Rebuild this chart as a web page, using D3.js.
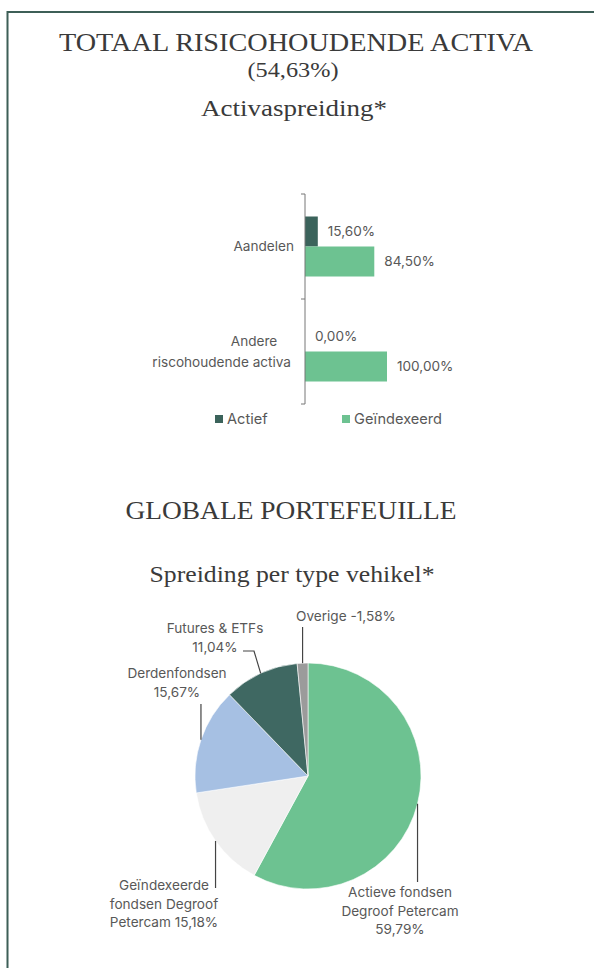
<!DOCTYPE html>
<html>
<head>
<meta charset="utf-8">
<script src="https://cdn.jsdelivr.net/npm/d3@7"></script>
<style>
	body { margin: 0; background: #fff; }
	svg { display: block; }
	.serif { font-family: "Liberation Serif", "DejaVu Serif", serif; fill: #3a3a3a; }
	.sans { font-family: "Inter", "Roboto", sans-serif; font-weight: 400; fill: #585858; font-size: 13.6px; }
	.leg { font-size: 14.6px; }
</style>
</head>
<body>
<div id="chart"></div>
<script>
// bar chart data
var categories = ["Aandelen", "Andere\nriscohoudende activa"];
var seriesNames = ["Actief", "Geïndexeerd"];
var actief = [15.60, 0.00];
var geindexeerd = [84.50, 100.00];

// pie data
var sliceNames = ["Actieve fondsen\nDegroof Petercam", "Geïndexeerde\nfondsen Degroof\nPetercam", "Derdenfondsen", "Futures & ETFs", "Overige"];
var sliceValues = [59.79, 15.18, 15.67, 11.04, -1.58];

var width = 594, height = 968;
var barColors = ["#3b635b", "#6dc291"];
var sliceColors = ["#6dc291", "#efefef", "#a6c0e3", "#3f6862", "#9b9b9b"];

var fmt = function(v) { return d3.format(".2f")(v).replace(".", ",").replace("\u2212", "-") + "%"; };

var svg = d3.select("#chart").append("svg")
	.attr("width", width)
	.attr("height", height);

svg.append("rect").attr("width", width).attr("height", height).attr("fill", "#fff");

// frame (only top and left edges are visible)
svg.append("line").attr("x1", 7).attr("x2", width).attr("y1", 12).attr("y2", 12)
	.attr("stroke", "#3d5f57").attr("stroke-width", 2);
svg.append("line").attr("x1", 7.5).attr("x2", 7.5).attr("y1", 11).attr("y2", height)
	.attr("stroke", "#3d5f57").attr("stroke-width", 2);

function title(txt, x, y, size, len)
{
	svg.append("text")
		.attr("class", "serif")
		.attr("x", x).attr("y", y)
		.attr("text-anchor", "middle")
		.attr("font-size", size)
		.attr("textLength", len)
		.attr("lengthAdjust", "spacingAndGlyphs")
		.text(txt);
}

title("TOTAAL RISICOHOUDENDE ACTIVA", 296, 51, 26, 474);
title("(54,63%)", 293, 77, 22, 91);
title("Activaspreiding*", 294, 116, 24, 186);
title("GLOBALE PORTEFEUILLE", 291, 519, 26, 331);
title("Spreiding per type vehikel*", 292, 582, 24, 285);

// ---- bar chart ----
var x = d3.scaleLinear().domain([0, 100]).range([305, 387]);
var y = d3.scaleBand().domain(categories).range([194, 404]);
var groupH = 60;
var ySub = d3.scaleBand().domain(seriesNames)
	.range([(y.bandwidth() - groupH) / 2, (y.bandwidth() + groupH) / 2]);

var bars = svg.append("g");
var seriesData = [actief, geindexeerd];

seriesNames.forEach(function(s, si) {
	categories.forEach(function(c, ci) {
		var v = seriesData[si][ci];
		var yy = y(c) + ySub(s);
		bars.append("rect")
			.attr("x", x(0))
			.attr("y", yy)
			.attr("width", x(v) - x(0))
			.attr("height", ySub.bandwidth())
			.attr("fill", barColors[si]);
		bars.append("text")
			.attr("class", "sans")
			.attr("x", x(v) + 10)
			.attr("y", yy + ySub.bandwidth() / 2)
			.attr("dy", "0.35em")
			.text(fmt(v));
	});
});

// axis line with ticks at band edges
var axis = svg.append("g");
axis.append("line")
	.attr("x1", x(0)).attr("x2", x(0))
	.attr("y1", y.range()[0]).attr("y2", y.range()[1])
	.attr("stroke", "#777").attr("stroke-width", 1);
var edges = categories.map(function(c) { return y(c); }).concat([y.range()[1]]);
axis.selectAll(".tk").data(edges).enter().append("line")
	.attr("x1", x(0) - 4).attr("x2", x(0))
	.attr("y1", function(d) { return d; }).attr("y2", function(d) { return d; })
	.attr("stroke", "#777");

// category labels
var catLayout = [
	[{x: 294, anchor: "end"}],
	[{x: 254, anchor: "middle"}, {x: 291, anchor: "end"}]
];
categories.forEach(function(c, ci) {
	var lines = c.split("\n");
	var cy = y(c) + y.bandwidth() / 2;
	var lh = 21;
	lines.forEach(function(l, li) {
		svg.append("text")
			.attr("class", "sans")
			.attr("x", catLayout[ci][li].x)
			.attr("y", cy + (li - (lines.length - 1) / 2) * lh)
			.attr("dy", "0.35em")
			.attr("text-anchor", catLayout[ci][li].anchor)
			.text(l);
	});
});

// legend
var legX = [215, 342];
seriesNames.forEach(function(s, si) {
	svg.append("rect")
		.attr("x", legX[si]).attr("y", 415)
		.attr("width", 8).attr("height", 8)
		.attr("fill", barColors[si]);
	svg.append("text")
		.attr("class", "sans leg")
		.attr("x", legX[si] + 12)
		.attr("y", 419)
		.attr("dy", "0.35em")
		.text(s);
});

// ---- pie chart ----
var cx = 308, cy = 776, r = 113;
var pie = d3.pie().sort(null).value(function(d) { return Math.abs(d); });
var arcs = pie(sliceValues);
var arc = d3.arc().innerRadius(0).outerRadius(r);

var pg = svg.append("g").attr("transform", "translate(" + cx + "," + cy + ")");
pg.selectAll("path").data(arcs).enter().append("path")
	.attr("d", arc)
	.attr("fill", function(d, i) { return sliceColors[i]; })
	.attr("stroke", "#fff")
	.attr("stroke-width", 0.6);

// label layout: text centre, first baseline, leader end, value joiner
var labelLayout = [
	{tx: 400, ty: 897, join: "\n", leader: [[0, 882]]},
	{tx: 164, ty: 890, join: " ", leader: [[0, 888]]},
	{tx: 177, ty: 678, join: "\n", leader: [[0, 704]]},
	{tx: 215, ty: 633, join: "\n", leader: [[254, 651], [243, 651]]},
	{tx: 346, ty: 621, join: " ", leader: [[0, 627]]}
];

arcs.forEach(function(a, i) {
	var L = labelLayout[i];
	var mid = (a.startAngle + a.endAngle) / 2;
	var px = cx + r * Math.sin(mid);
	var py = cy - r * Math.cos(mid);
	var pts = [[px, py]];
	L.leader.forEach(function(p) {
		pts.push([p[0] === 0 ? px : p[0], p[1]]);
	});
	svg.append("path")
		.attr("d", d3.line()(pts))
		.attr("fill", "none")
		.attr("stroke", "#444")
		.attr("stroke-width", 1.2);

	var lines = (sliceNames[i] + L.join + fmt(sliceValues[i])).split("\n");
	lines.forEach(function(l, li) {
		svg.append("text")
			.attr("class", "sans")
			.attr("x", L.tx)
			.attr("y", L.ty + li * 18.7)
			.attr("text-anchor", "middle")
			.text(l);
	});
});
</script>
</body>
</html>
